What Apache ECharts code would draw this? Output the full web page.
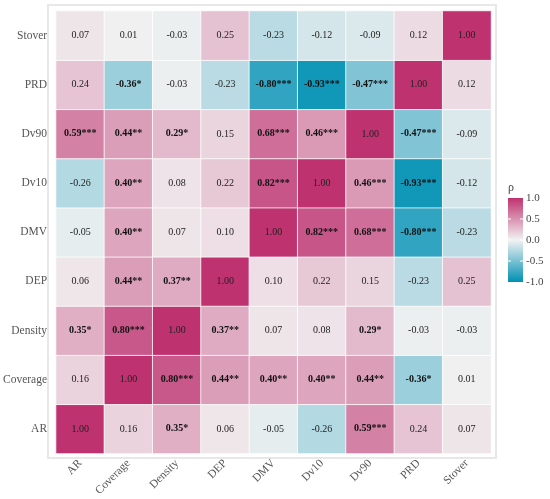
<!DOCTYPE html>
<html lang="en">
<head>
<meta charset="UTF-8">
<script src="https://cdn.jsdelivr.net/npm/echarts@6/dist/echarts.min.js"></script>
<title>Spearman correlation heatmap</title>
<style>
  html, body { margin: 0; padding: 0; background: #fff; }
</style>
</head>
<body>
<div id="main" style="width: 550px;height:499px;"></div>
<script type="text/javascript">
// variables, same order on both axes (y axis runs bottom -> top)
var vars = ['AR', 'Coverage', 'Density', 'DEP', 'DMV', 'Dv10', 'Dv90', 'PRD', 'Stover'];

// correlation matrix, one row per variable (columns in vars order)
var rhoAR       = [1.00, 0.16, 0.35, 0.06, -0.05, -0.26, 0.59, 0.24, 0.07];
var rhoCoverage = [0.16, 1.00, 0.80, 0.44, 0.40, 0.40, 0.44, -0.36, 0.01];
var rhoDensity  = [0.35, 0.80, 1.00, 0.37, 0.07, 0.08, 0.29, -0.03, -0.03];
var rhoDEP      = [0.06, 0.44, 0.37, 1.00, 0.10, 0.22, 0.15, -0.23, 0.25];
var rhoDMV      = [-0.05, 0.40, 0.07, 0.10, 1.00, 0.82, 0.68, -0.80, -0.23];
var rhoDv10     = [-0.26, 0.40, 0.08, 0.22, 0.82, 1.00, 0.46, -0.93, -0.12];
var rhoDv90     = [0.59, 0.44, 0.29, 0.15, 0.68, 0.46, 1.00, -0.47, -0.09];
var rhoPRD      = [0.24, -0.36, -0.03, -0.23, -0.80, -0.93, -0.47, 1.00, 0.12];
var rhoStover   = [0.07, 0.01, -0.03, 0.25, -0.23, -0.12, -0.09, 0.12, 1.00];

// significance stars
var sigAR       = ['', '', '*', '', '', '', '***', '', ''];
var sigCoverage = ['', '', '***', '**', '**', '**', '**', '*', ''];
var sigDensity  = ['*', '***', '', '**', '', '', '*', '', ''];
var sigDEP      = ['', '**', '**', '', '', '', '', '', ''];
var sigDMV      = ['', '**', '', '', '', '***', '***', '***', ''];
var sigDv10     = ['', '**', '', '', '***', '', '***', '***', ''];
var sigDv90     = ['***', '**', '*', '', '***', '***', '', '***', ''];
var sigPRD      = ['', '*', '', '', '***', '***', '***', '', ''];
var sigStover   = ['', '', '', '', '', '', '', '', ''];

var legendTicks = [1.0, 0.5, 0.0, -0.5, -1.0];

var rhoRows = [rhoAR, rhoCoverage, rhoDensity, rhoDEP, rhoDMV, rhoDv10, rhoDv90, rhoPRD, rhoStover];
var sigRows = [sigAR, sigCoverage, sigDensity, sigDEP, sigDMV, sigDv10, sigDv90, sigPRD, sigStover];

var colors = ['#0090B4', '#F2F2F2', '#BE326F'];

var data = [];
for (var r = 0; r < vars.length; r++) {
    for (var c = 0; c < vars.length; c++) {
        data.push([c, r, rhoRows[r][c], sigRows[r][c]]);
    }
}

var myChart = echarts.init(document.getElementById('main'));

// colour bar drawn by hand so it can carry five tick labels
var barLeft = 508, barTop = 198, barW = 15, barH = 84;
var legendGraphics = [
    {
        type: 'rect',
        shape: { x: 48, y: 5, width: 448, height: 453 },
        style: { fill: 'none', stroke: '#E8E8E8', lineWidth: 2 },
        z: 0
    },
    {
        type: 'text',
        left: barLeft,
        top: barTop - 16,
        style: { text: 'ρ', font: '12px "Liberation Serif", serif', fill: '#444' }
    },
    {
        type: 'rect',
        shape: { x: barLeft, y: barTop, width: barW, height: barH },
        style: {
            fill: new echarts.graphic.LinearGradient(0, 0, 0, 1, [
                { offset: 0, color: colors[2] },
                { offset: 0.5, color: colors[1] },
                { offset: 1, color: colors[0] }
            ])
        }
    }
];
legendTicks.forEach(function (t) {
    var y = barTop + (1 - t) / 2 * barH;
    if (t !== 1 && t !== -1) {
        legendGraphics.push({
            type: 'line',
            shape: { x1: barLeft, y1: y, x2: barLeft + 3, y2: y },
            style: { stroke: '#fff', lineWidth: 1 }
        });
        legendGraphics.push({
            type: 'line',
            shape: { x1: barLeft + barW - 3, y1: y, x2: barLeft + barW, y2: y },
            style: { stroke: '#fff', lineWidth: 1 }
        });
    }
    legendGraphics.push({
        type: 'text',
        x: barLeft + barW + 3,
        y: y,
        style: {
            text: t.toFixed(1),
            font: '11px "Liberation Serif", serif',
            fill: '#444',
            verticalAlign: 'middle'
        }
    });
});

option = {
    backgroundColor: '#fff',
    animation: false,
    grid: { left: 53, top: 11, width: 438, height: 443 },
    xAxis: {
        type: 'category',
        data: vars,
        axisLine: { show: false },
        axisTick: { show: false },
        splitLine: { show: false },
        axisLabel: {
            rotate: 45,
            margin: 8,
            color: '#555',
            fontSize: 11.5,
            fontFamily: '"Liberation Serif", serif'
        }
    },
    yAxis: {
        type: 'category',
        data: vars,
        axisLine: { show: false },
        axisTick: { show: false },
        splitLine: { show: false },
        axisLabel: {
            margin: 9,
            color: '#555',
            fontSize: 11.5,
            fontFamily: '"Liberation Serif", serif'
        }
    },
    visualMap: {
        show: false,
        type: 'continuous',
        min: -1,
        max: 1,
        dimension: 2,
        inRange: { color: colors }
    },
    graphic: legendGraphics,
    series: [{
        type: 'heatmap',
        data: data,
        itemStyle: { borderColor: '#fff', borderWidth: 0.8 },
        label: {
            show: true,
            fontFamily: '"Liberation Serif", serif',
            fontSize: 10,
            color: '#222',
            formatter: function (p) {
                var txt = p.value[2].toFixed(2) + p.value[3];
                return p.value[3] ? '{b|' + txt + '}' : txt;
            },
            rich: {
                b: {
                    fontFamily: '"Liberation Serif", serif',
                    fontSize: 10,
                    fontWeight: 'bold',
                    color: '#111'
                }
            }
        },
        emphasis: { disabled: true }
    }]
};

myChart.setOption(option);
</script>
</body>
</html>
